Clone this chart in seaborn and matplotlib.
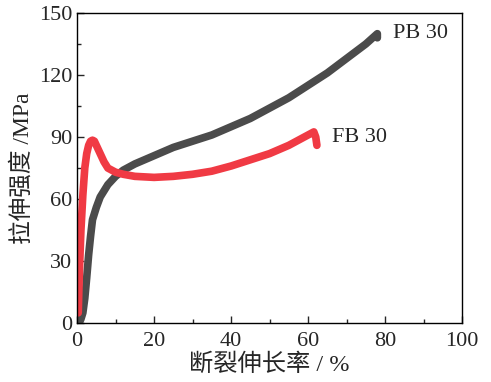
import pandas as pd
import matplotlib
matplotlib.use("Agg")
import matplotlib.pyplot as plt
from matplotlib.ticker import MultipleLocator
import seaborn as sns

# strain (%) / stress (MPa)
pb_strain = [0.5, 1, 1.5, 2, 2.5, 3, 3.5, 4, 5, 6, 7, 8, 10, 12, 15, 20, 25,
             30, 35, 40, 45, 50, 55, 60, 65, 70, 75, 78, 78]
pb_stress = [0, 2, 5, 12, 22, 33, 42, 50, 56, 61, 64, 67, 71, 74, 77, 81, 85,
             88, 91, 95, 99, 104, 109, 115, 121, 128, 135, 140, 138]
fb_strain = [0.3, 0.6, 1, 1.5, 2, 2.5, 3, 3.5, 4, 4.5, 5, 6, 7, 8, 10, 12, 15,
             20, 25, 30, 35, 40, 45, 50, 55, 58, 60, 61.5, 62, 62.3]
fb_stress = [5, 25, 45, 62, 75, 82, 86, 88, 88.5, 88, 86, 82, 78, 75, 73, 72,
             71, 70.5, 71, 72, 73.5, 76, 79, 82, 86, 89, 91, 92.5, 90, 86]

x_ticks = [0, 20, 40, 60, 80, 100]
y_ticks = [0, 30, 60, 90, 120, 150]
colors = {"PB 30": "#4b4b4b", "FB 30": "#f03a44"}


def main():
    sns.set_style("ticks")
    plt.rcParams["font.family"] = ["Liberation Serif", "Noto Sans CJK SC"]

    df = pd.concat([
        pd.DataFrame({"strain": pb_strain, "stress": pb_stress, "sample": "PB 30"}),
        pd.DataFrame({"strain": fb_strain, "stress": fb_stress, "sample": "FB 30"}),
    ])

    fig = plt.figure(figsize=(4.91, 3.82), dpi=100)
    ax = fig.add_axes([0.157, 0.154, 0.784, 0.812])

    sns.lineplot(data=df, x="strain", y="stress", hue="sample", palette=colors,
                 sort=False, estimator=None, linewidth=5.5, legend=False, ax=ax)

    ax.text(82, 140, "PB 30", fontsize=16, va="center", ha="left")
    ax.text(66.2, 90, "FB 30", fontsize=16, va="center", ha="left")

    ax.set_xlim(0, 100)
    ax.set_ylim(0, 150)
    ax.set_xticks(x_ticks)
    ax.set_yticks(y_ticks)
    ax.xaxis.set_minor_locator(MultipleLocator(10))
    ax.yaxis.set_minor_locator(MultipleLocator(15))
    ax.tick_params(which="both", direction="in", labelsize=16, width=1)
    ax.tick_params(axis="x", pad=6)
    ax.tick_params(which="major", length=5)
    ax.tick_params(which="minor", length=3)
    for s in ax.spines.values():
        s.set_linewidth(1)
        s.set_color("black")

    ax.set_xlabel("断裂伸长率 / %", fontsize=17.5, labelpad=2)
    ax.set_ylabel("拉伸强度 /MPa", fontsize=17, labelpad=4)

    fig.savefig("out.png", dpi=100)
    plt.close(fig)


if __name__ == "__main__":
    main()
